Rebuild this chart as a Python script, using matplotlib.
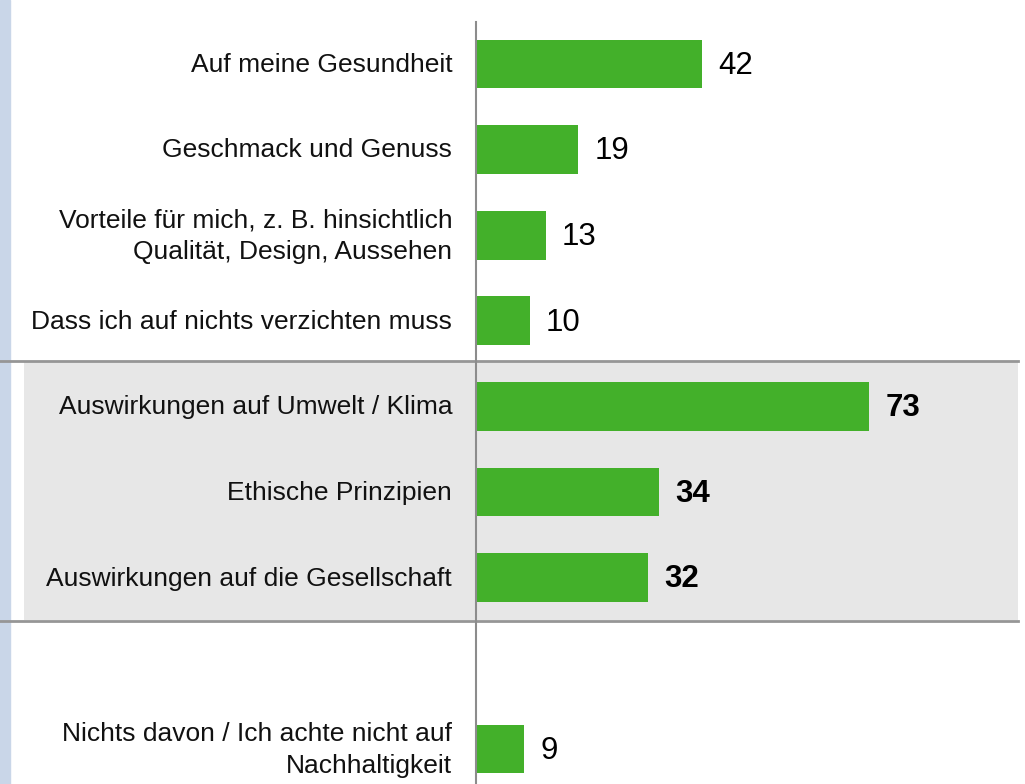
import numpy as np
import matplotlib.pyplot as plt

plt.rcParams['font.family'] = ['Liberation Sans', 'DejaVu Sans']

# Daten
labels = ['Auf meine Gesundheit', 'Geschmack und Genuss',
          'Vorteile für mich, z. B. hinsichtlich\nQualität, Design, Aussehen',
          'Dass ich auf nichts verzichten muss',
          'Auswirkungen auf Umwelt / Klima', 'Ethische Prinzipien',
          'Auswirkungen auf die Gesellschaft',
          'Nichts davon / Ich achte nicht auf\nNachhaltigkeit']
values = [42, 19, 13, 10, 73, 34, 32, 9]
positions = [0, 1, 2, 3, 4, 5, 6, 8]
bold_values = [False, False, False, False, True, True, True, False]

green = '#43b02a'

fig = plt.figure(figsize=(10.25, 7.84), dpi=100)
ax = fig.add_axes([0, 0, 1, 1])
ax.set_xlim(-88.3, 101.9)
ax.set_ylim(8.41, -0.748)
ax.axis('off')

# Hintergrund
ax.axvspan(-88.3, -86.5, color='#c9d6e8', zorder=0)
ax.fill_between([-83.8, 100.6], 3.48, 6.50, color='#e7e7e7', zorder=0, lw=0)
for y in (3.47, 6.51):
    ax.plot([-88.3, 100.6], [y, y], color='#969696', lw=2, zorder=1)
ax.plot([0, 0], [-0.49, 8.41], color='#8c8c8c', lw=1.5, zorder=3)

# Balken
ax.barh(positions, values, height=0.57, color=green, zorder=2)

for p, lab, v, b in zip(positions, labels, values, bold_values):
    ax.text(-4.4, p + 0.01, lab, ha='right', va='center', fontsize=19,
            linespacing=1.42, color='#111111')
    ax.text(v + 3, p + 0.02, str(v), ha='left', va='center', fontsize=22.5,
            fontweight='bold' if b else 'normal', color='black')

fig.savefig('out.png', dpi=100)
